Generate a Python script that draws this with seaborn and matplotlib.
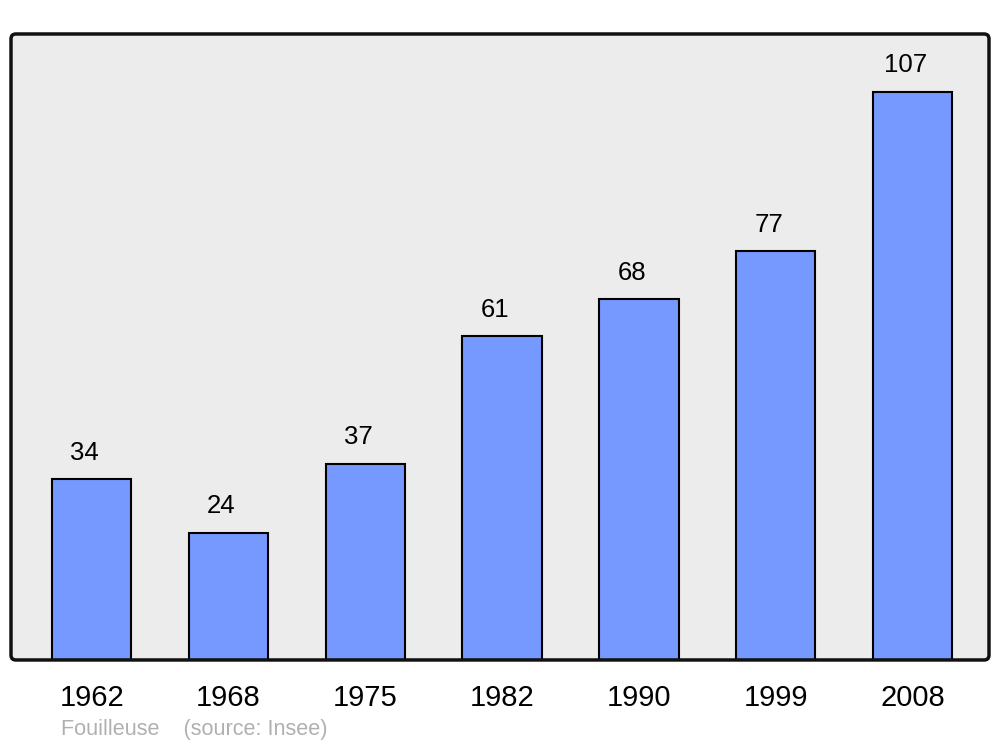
import pandas as pd
import seaborn as sns
import matplotlib.pyplot as plt
from matplotlib.patches import FancyBboxPatch

# population by census year
years = ['1962', '1968', '1975', '1982', '1990', '1999', '2008']
population = [34, 24, 37, 61, 68, 77, 107]

df = pd.DataFrame({'year': years, 'pop': population})

sns.set_theme(style='white')
plt.rcParams['font.family'] = ['Liberation Sans', 'DejaVu Sans']

fig = plt.figure(figsize=(10, 7.47), dpi=100)
ax = fig.add_axes([0.011, 0.1165, 0.978, 0.838])
ax.set_facecolor('none')

sns.barplot(data=df, x='year', y='pop', color='#7599ff', saturation=1,
            width=0.58, edgecolor='black', linewidth=1.5, ax=ax, zorder=2)

ax.set_xlim(-0.59, 6.56)
ax.set_ylim(0, 117.9)
ax.set_xlabel('')
ax.set_ylabel('')
ax.set_yticks([])
ax.tick_params(axis='x', length=0, pad=17, labelsize=21, colors='black')
for s in ax.spines.values():
    s.set_visible(False)

# rounded frame
asp = 978 / 626
bg = FancyBboxPatch((0, 0), 1, 1, boxstyle='round,pad=0,rounding_size=0.005',
                    mutation_aspect=asp, transform=ax.transAxes,
                    fc='#ececec', ec='none', zorder=0, clip_on=False)
frame = FancyBboxPatch((0, 0), 1, 1, boxstyle='round,pad=0,rounding_size=0.005',
                       mutation_aspect=asp, transform=ax.transAxes,
                       fc='none', ec='#111111', lw=2.5, zorder=3, clip_on=False)
ax.add_patch(bg)
ax.add_patch(frame)

# value labels
for i, v in enumerate(population):
    ax.annotate(str(v), (i, v), xytext=(-5, 19), textcoords='offset points',
                ha='center', va='center', fontsize=18.5, color='black')

fig.text(0.061, 1 - 730 / 747, 'Fouilleuse    (source: Insee)', color='#b0b0b0',
         fontsize=15.6, va='center', ha='left')

fig.savefig('out.png', dpi=100)
